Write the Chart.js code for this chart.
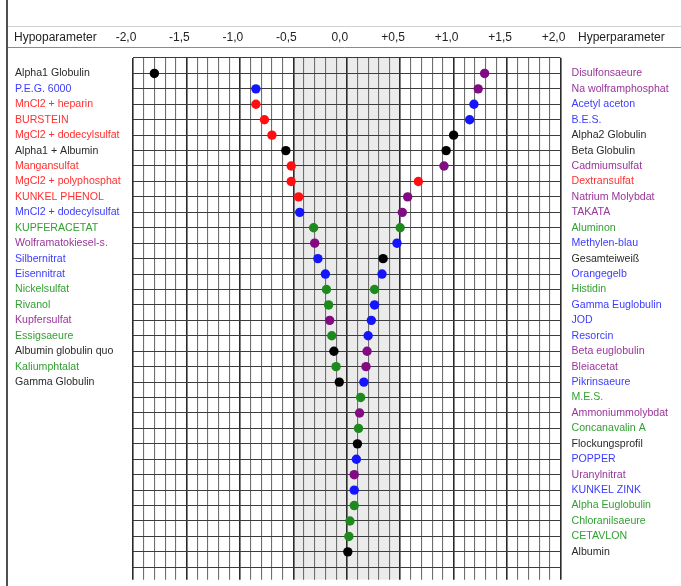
<!DOCTYPE html>
<html>
<head>
<meta charset="utf-8">
<script src="https://cdn.jsdelivr.net/npm/chart.js@4/dist/chart.umd.min.js"></script>
<style>
  html, body { margin: 0; padding: 0; background: #ffffff; }
  canvas { display: block; }
</style>
</head>
<body>
<canvas id="c" width="681" height="586"></canvas>
<script>
// Axis labels along the top edge
const xTickLabels = ['-2,0', '-1,5', '-1,0', '-0,5', '0,0', '+0,5', '+1,0', '+1,5', '+2,0'];

// Hypoparameter side (left column)
const hypoNames = [
  'Alpha1 Globulin', 'P.E.G. 6000', 'MnCl2 + heparin', 'BURSTEIN', 'MgCl2 + dodecylsulfat',
  'Alpha1 + Albumin', 'Mangansulfat', 'MgCl2 + polyphosphat', 'KUNKEL PHENOL', 'MnCl2 + dodecylsulfat',
  'KUPFERACETAT', 'Wolframatokiesel-s.', 'Silbernitrat', 'Eisennitrat', 'Nickelsulfat',
  'Rivanol', 'Kupfersulfat', 'Essigsaeure', 'Albumin globulin quo', 'Kaliumphtalat', 'Gamma Globulin'
];
const hypoValues = [
  -1.80, -0.85, -0.85, -0.77, -0.70,
  -0.57, -0.52, -0.52, -0.45, -0.44,
  -0.31, -0.30, -0.27, -0.20, -0.19,
  -0.17, -0.16, -0.14, -0.12, -0.10, -0.07
];
const hypoGroups = [
  'black', 'blue', 'red', 'red', 'red',
  'black', 'red', 'red', 'red', 'blue',
  'green', 'purple', 'blue', 'blue', 'green',
  'green', 'purple', 'green', 'black', 'green', 'black'
];

// Hyperparameter side (right column)
const hyperNames = [
  'Disulfonsaeure', 'Na wolframphosphat', 'Acetyl aceton', 'B.E.S.', 'Alpha2 Globulin',
  'Beta Globulin', 'Cadmiumsulfat', 'Dextransulfat', 'Natrium Molybdat', 'TAKATA',
  'Aluminon', 'Methylen-blau', 'Gesamteiweiß', 'Orangegelb', 'Histidin',
  'Gamma Euglobulin', 'JOD', 'Resorcin', 'Beta euglobulin', 'Bleiacetat',
  'Pikrinsaeure', 'M.E.S.', 'Ammoniummolybdat', 'Concanavalin A', 'Flockungsprofil',
  'POPPER', 'Uranylnitrat', 'KUNKEL ZINK', 'Alpha Euglobulin', 'Chloranilsaeure',
  'CETAVLON', 'Albumin'
];
const hyperValues = [
  1.29, 1.23, 1.19, 1.15, 1.00,
  0.93, 0.91, 0.67, 0.57, 0.52,
  0.50, 0.47, 0.34, 0.33, 0.26,
  0.26, 0.23, 0.20, 0.19, 0.18,
  0.16, 0.13, 0.12, 0.11, 0.10,
  0.09, 0.07, 0.07, 0.07, 0.03,
  0.02, 0.01
];
const hyperGroups = [
  'purple', 'purple', 'blue', 'blue', 'black',
  'black', 'purple', 'red', 'purple', 'purple',
  'green', 'blue', 'black', 'blue', 'green',
  'blue', 'blue', 'blue', 'purple', 'purple',
  'blue', 'green', 'purple', 'green', 'black',
  'blue', 'purple', 'blue', 'green', 'green',
  'green', 'black'
];

const markColors = { black: '#000000', blue: '#1414ff', red: '#ff1010', green: '#1e8a1e', purple: '#820a82' };
const textColors = { black: '#2a2a2a', blue: '#3c3cff', red: '#ff3030', green: '#33a033', purple: '#9a359a' };

// rows: one grid line above the first entry, lines run one row past the last entry
const ROW_MIN = -1, ROW_MAX = 32.8;
const rowTicks = [];
for (let r = ROW_MIN; r <= 32; r++) rowTicks.push({ value: r });

const xTicks = [];
for (let k = -20; k <= 20; k++) xTicks.push({ value: k / 10 });

const isMajor = v => Math.abs(Math.round(v * 10)) % 5 === 0;

// light grey zone between -0,5 and +0,5
const bandPlugin = {
  id: 'band',
  beforeDraw(chart) {
    const { ctx, chartArea, scales } = chart;
    const x0 = scales.x.getPixelForValue(-0.5);
    const x1 = scales.x.getPixelForValue(0.5);
    ctx.save();
    ctx.fillStyle = '#ebebeb';
    ctx.fillRect(x0, chartArea.top, x1 - x0, chartArea.bottom - chartArea.top);
    ctx.restore();
  }
};

// header captions and frame lines
const headerPlugin = {
  id: 'header',
  afterDraw(chart) {
    const { ctx } = chart;
    ctx.save();
    ctx.strokeStyle = '#d0d0d0';
    ctx.lineWidth = 1;
    ctx.beginPath(); ctx.moveTo(8, 26.5); ctx.lineTo(681, 26.5); ctx.stroke();
    ctx.strokeStyle = '#8a8a8a';
    ctx.beginPath(); ctx.moveTo(8, 47.5); ctx.lineTo(681, 47.5); ctx.stroke();
    ctx.strokeStyle = '#505050';
    ctx.lineWidth = 2;
    ctx.beginPath(); ctx.moveTo(7, 0); ctx.lineTo(7, 586); ctx.stroke();
    ctx.fillStyle = '#222222';
    ctx.font = '12px "Liberation Sans", Arial, sans-serif';
    ctx.textBaseline = 'middle';
    ctx.textAlign = 'left';
    ctx.fillText('Hypoparameter', 14, 38);
    ctx.fillText('Hyperparameter', 578, 38);
    ctx.restore();
  }
};

const labelFont = { family: '"Liberation Sans", Arial, sans-serif', size: 10.6 };

new Chart(document.getElementById('c'), {
  type: 'scatter',
  data: {
    datasets: [
      {
        label: 'Hypoparameter',
        data: hypoValues.map((v, i) => ({ x: v, y: i })),
        pointBackgroundColor: hypoGroups.map(g => markColors[g]),
        pointBorderWidth: 0,
        pointRadius: 4.7,
        pointHoverRadius: 4.7
      },
      {
        label: 'Hyperparameter',
        data: hyperValues.map((v, i) => ({ x: v, y: i })),
        pointBackgroundColor: hyperGroups.map(g => markColors[g]),
        pointBorderWidth: 0,
        pointRadius: 4.7,
        pointHoverRadius: 4.7
      }
    ]
  },
  options: {
    responsive: false,
    animation: false,
    events: [],
    layout: { padding: { left: 15, right: 0, top: 0, bottom: 0 } },
    plugins: { legend: { display: false }, tooltip: { enabled: false } },
    scales: {
      x: {
        type: 'linear',
        position: 'top',
        min: -2,
        max: 2,
        afterBuildTicks: s => { s.ticks = xTicks.map(t => ({ value: t.value })); },
        afterFit: s => { s.height = 58; },
        ticks: {
          autoSkip: false,
          maxRotation: 0,
          padding: 13,
          labelOffset: -7,
          color: '#222222',
          font: { family: '"Liberation Sans", Arial, sans-serif', size: 12 },
          callback: v => isMajor(v) ? xTickLabels[Math.round(v * 2) + 4] : ''
        },
        grid: {
          drawTicks: false,
          color: c => isMajor(c.tick.value) ? '#2a2a2a' : '#6e6e6e',
          lineWidth: c => isMajor(c.tick.value) ? 1.6 : 1.1
        },
        border: { display: false }
      },
      y: {
        type: 'linear',
        position: 'left',
        reverse: true,
        min: ROW_MIN,
        max: ROW_MAX,
        afterBuildTicks: s => { s.ticks = rowTicks.map(t => ({ value: t.value })); },
        afterFit: s => { s.width = 118; },
        ticks: {
          autoSkip: false,
          crossAlign: 'far',
          padding: 0,
          font: labelFont,
          color: c => {
            const g = hypoGroups[c.tick.value];
            return g ? textColors[g] : '#000000';
          },
          callback: v => hypoNames[v] || ''
        },
        grid: {
          drawTicks: false,
          color: '#3c3c3c',
          lineWidth: 1.1
        },
        border: { display: false }
      },
      y2: {
        type: 'linear',
        position: 'right',
        reverse: true,
        min: ROW_MIN,
        max: ROW_MAX,
        afterBuildTicks: s => { s.ticks = rowTicks.map(t => ({ value: t.value })); },
        afterFit: s => { s.width = 120.5; },
        ticks: {
          autoSkip: false,
          crossAlign: 'near',
          padding: 0,
          font: labelFont,
          color: c => {
            const g = hyperGroups[c.tick.value];
            return g ? textColors[g] : '#000000';
          },
          callback: v => hyperNames[v] || ''
        },
        grid: {
          display: true,
          drawOnChartArea: false,
          drawTicks: true,
          tickLength: 11,
          color: 'rgba(0,0,0,0)'
        },
        border: { display: false }
      }
    }
  },
  plugins: [bandPlugin, headerPlugin]
});
</script>
</body>
</html>
